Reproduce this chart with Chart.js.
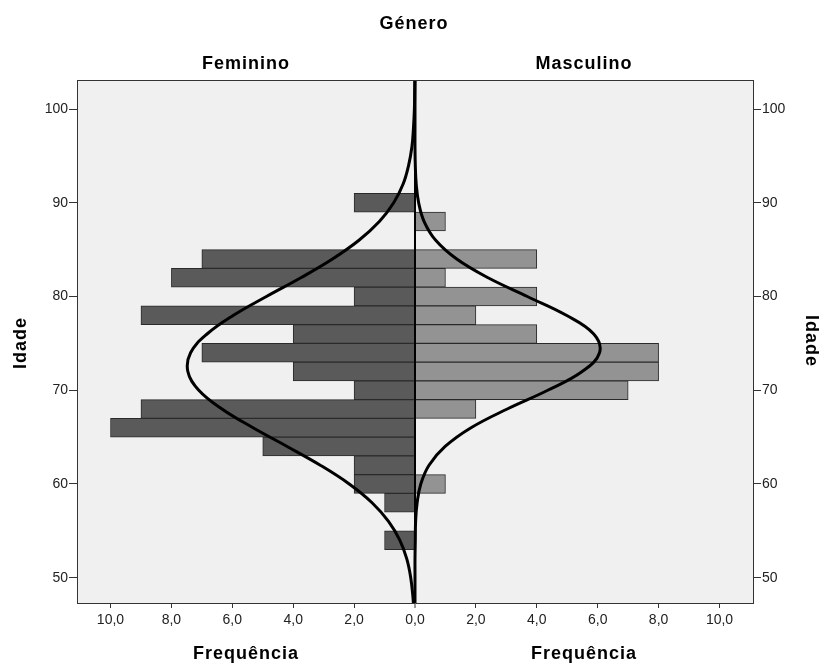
<!DOCTYPE html>
<html>
<head>
<meta charset="utf-8">
<script src="https://cdn.jsdelivr.net/npm/chart.js@4"></script>
<style>
  body { margin: 0; background: #fff; }
  #wrap { width: 821px; height: 666px; }
</style>
</head>
<body>
<div id="wrap"><canvas id="pyramid" width="821" height="666"></canvas></div>
<script>
// age bins (bin centres, width 2 years)
var ageBins = [90, 88, 86, 84, 82, 80, 78, 76, 74, 72, 70, 68, 66, 64, 62, 60, 58, 56, 54];
var femFreq = [2, 0, 0, 7, 8, 2, 9, 4, 7, 4, 2, 9, 10, 5, 2, 2, 1, 0, 1];
var mascFreq = [0, 1, 0, 4, 1, 4, 2, 4, 8, 8, 7, 2, 0, 0, 0, 1, 0, 0, 0];

// normal curves
var curveAges = [46, 48, 50, 52, 54, 56, 58, 60, 62, 64, 66, 68, 70, 72, 74, 76, 78, 80, 82, 84, 86, 88, 90, 92, 94, 96, 98, 100, 102, 104];
var femCurve = [0.03, 0.07, 0.14, 0.27, 0.50, 0.87, 1.41, 2.16, 3.11, 4.20, 5.32, 6.34, 7.10, 7.46, 7.37, 6.83, 5.96, 4.88, 3.75, 2.71, 1.84, 1.17, 0.70, 0.39, 0.21, 0.10, 0.05, 0.02, 0.01, 0.00];
var mascCurve = [0, 0, 0, 0, 0.01, 0.02, 0.07, 0.19, 0.46, 0.99, 1.84, 3.03, 4.36, 5.49, 6.06, 5.87, 4.97, 3.69, 2.40, 1.37, 0.68, 0.30, 0.12, 0.04, 0.01, 0, 0, 0, 0, 0];

var xTicks = [-10, -8, -6, -4, -2, 0, 2, 4, 6, 8, 10];
var yTicks = [50, 60, 70, 80, 90, 100];

var FONT = "'Liberation Sans', Arial, sans-serif";

function barPoints(freq, sign) {
    var pts = [];
    for (var i = 0; i < ageBins.length; i++) {
        if (freq[i] > 0) pts.push({ x: sign * freq[i], y: ageBins[i] });
    }
    return pts;
}
function curvePoints(vals, sign) {
    return curveAges.map(function (a, i) { return { x: sign * vals[i], y: a }; });
}

var panelBg = {
    id: 'panelBg',
    beforeDraw: function (chart) {
        var c = chart.ctx, a = chart.chartArea;
        c.save();
        c.fillStyle = '#f0f0f0';
        c.fillRect(a.left, a.top, a.right - a.left, a.bottom - a.top);
        c.restore();
    },
    afterDraw: function (chart) {
        var c = chart.ctx, a = chart.chartArea;
        c.save();
        c.strokeStyle = '#333';
        c.lineWidth = 1;
        c.beginPath();
        c.moveTo(a.left, a.top + 0.5);
        c.lineTo(a.right, a.top + 0.5);
        c.stroke();

        var zero = chart.scales.x.getPixelForValue(0);
        var midL = (a.left + zero) / 2;
        var midR = (a.right + zero) / 2;
        c.fillStyle = '#000';
        c.textAlign = 'center';
        c.textBaseline = 'middle';
        c.font = 'bold 18px ' + FONT;
        c.letterSpacing = '1px';
        c.fillText('Género', 414, 24);
        c.fillText('Feminino', midL, 64);
        c.fillText('Masculino', midR, 64);
        c.fillText('Frequência', midL, 654);
        c.fillText('Frequência', midR, 654);

        c.translate(21, 343);
        c.rotate(-Math.PI / 2);
        c.fillText('Idade', 0, 0);
        c.restore();

        c.save();
        c.fillStyle = '#000';
        c.textAlign = 'center';
        c.textBaseline = 'middle';
        c.font = 'bold 18px ' + FONT;
        c.letterSpacing = '1px';
        c.translate(811, 341);
        c.rotate(Math.PI / 2);
        c.fillText('Idade', 0, 0);
        c.restore();
    }
};

function yScale(pos, width) {
    return {
        type: 'linear',
        position: pos,
        min: 47.3,
        max: 103.1,
        offset: false,
        afterBuildTicks: function (s) { s.ticks = yTicks.map(function (v) { return { value: v }; }); },
        afterFit: function (s) { s.width = width; },
        ticks: { color: '#222', font: { family: FONT, size: 14 }, padding: 1 },
        grid: { drawOnChartArea: false, offset: false, tickLength: 8, color: '#333' },
        border: { color: '#333', width: 1 }
    };
}

var chart = new Chart(document.getElementById('pyramid').getContext('2d'), {
    type: 'bar',
    data: {
        datasets: [
            {
                type: 'line',
                data: curvePoints(femCurve, -1),
                borderColor: '#000',
                borderWidth: 3,
                pointRadius: 0,
                tension: 0.4,
                fill: false,
                order: 0
            },
            {
                type: 'line',
                data: curvePoints(mascCurve, 1),
                borderColor: '#000',
                borderWidth: 3,
                pointRadius: 0,
                tension: 0.4,
                fill: false,
                order: 0
            },
            {
                data: barPoints(femFreq, -1),
                backgroundColor: '#5a5a5a',
                borderColor: '#2a2a2a',
                borderWidth: 1,
                barPercentage: 1,
                categoryPercentage: 1,
                grouped: false,
                order: 1
            },
            {
                data: barPoints(mascFreq, 1),
                backgroundColor: '#939393',
                borderColor: '#2a2a2a',
                borderWidth: 1,
                barPercentage: 1,
                categoryPercentage: 1,
                grouped: false,
                order: 1
            }
        ]
    },
    options: {
        indexAxis: 'y',
        responsive: false,
        animation: false,
        layout: { padding: { top: 80, left: 0, right: 0, bottom: 0 } },
        plugins: { legend: { display: false }, tooltip: { enabled: false } },
        scales: {
            x: {
                type: 'linear',
                position: 'bottom',
                min: -11.1,
                max: 11.1,
                offset: false,
                afterBuildTicks: function (s) { s.ticks = xTicks.map(function (v) { return { value: v }; }); },
                afterFit: function (s) { s.height = 63; },
                ticks: {
                    color: '#222',
                    font: { family: FONT, size: 14 },
                    padding: 4,
                    callback: function (v) { return Math.abs(v).toFixed(1).replace('.', ','); }
                },
                grid: {
                    drawOnChartArea: true,
                    offset: false,
                    tickLength: 5,
                    tickColor: '#333',
                    tickWidth: 1,
                    color: function (ctx) { return ctx.tick && ctx.tick.value === 0 ? '#000' : 'rgba(0,0,0,0)'; },
                    lineWidth: function (ctx) { return ctx.tick && ctx.tick.value === 0 ? 2 : 1; }
                },
                border: { color: '#333', width: 1 }
            },
            y: yScale('left', 77),
            y2: yScale('right', 68)
        }
    },
    plugins: [panelBg]
});
</script>
</body>
</html>
